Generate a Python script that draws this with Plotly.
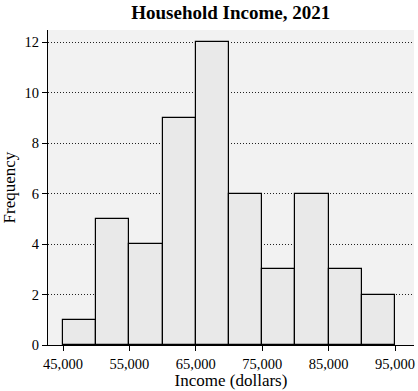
import plotly.graph_objects as go

bin_starts = [45000, 50000, 55000, 60000, 65000, 70000, 75000, 80000, 85000, 90000]
bin_width = 5000
counts = [1, 5, 4, 9, 12, 6, 3, 6, 3, 2]
x_tick_vals = [45000, 55000, 65000, 75000, 85000, 95000]
x_tick_text = ["45,000", "55,000", "65,000", "75,000", "85,000", "95,000"]
y_tick_vals = [0, 2, 4, 6, 8, 10, 12]

centers = [s + bin_width / 2 for s in bin_starts]

fig = go.Figure(go.Bar(
    x=centers, y=counts, width=[bin_width] * len(counts),
    marker=dict(color="#e9e9e9", line=dict(color="black", width=1.2)),
))

font = "Liberation Serif, Times New Roman, serif"
fig.update_layout(
    width=418, height=391,
    margin=dict(l=48, r=4, t=30, b=46),
    paper_bgcolor="white", plot_bgcolor="#f2f2f2",
    font=dict(family=font, color="black", size=14.5),
    title=dict(text="<b>Household Income, 2021</b>", x=0.552, xanchor="center",
               y=0.985, yanchor="top", font=dict(size=19, family=font)),
    showlegend=False,
    bargap=0,
)
fig.update_xaxes(
    range=[42740, 97860], tickvals=x_tick_vals, ticktext=x_tick_text,
    showgrid=False, zeroline=False, showline=True, linecolor="black", linewidth=1.2,
    ticks="outside", ticklen=5, tickcolor="black",
    title=dict(text="Income (dollars)", font=dict(size=17), standoff=0),
)
fig.update_yaxes(
    range=[0, 12.48], tickvals=y_tick_vals,
    showgrid=True, gridcolor="#222222", griddash="1px,2px", gridwidth=1,
    zeroline=False, showline=True, linecolor="black", linewidth=1.2,
    ticks="outside", ticklen=5, tickcolor="black",
    title=dict(text="Frequency", font=dict(size=17), standoff=4),
)
fig.write_html("out.html", config={"displayModeBar": False},
               post_script="document.body.style.margin='0';")
